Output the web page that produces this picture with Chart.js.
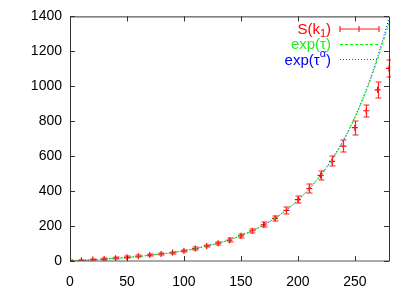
<!DOCTYPE html>
<html>
<head>
<meta charset="utf-8">
<script src="https://cdn.jsdelivr.net/npm/chart.js@4/dist/chart.umd.min.js"></script>
<style>
  html, body { margin: 0; padding: 0; background: #fff; }
</style>
</head>
<body>
<canvas id="chart" width="415" height="291"></canvas>
<script>
// x positions (tau)
const xs = [0, 10, 20, 30, 40, 50, 60, 70, 80, 90, 100, 110, 120, 130, 140,
            150, 160, 170, 180, 190, 200, 210, 220, 230, 240, 250, 260, 270, 280];

// S(k1) measured values and their errors
const sVals = [2, 4, 8, 11, 16, 21, 27, 34, 40, 48, 58, 71, 86, 102, 119,
               144, 173, 207, 244, 290, 351, 415, 490, 570, 658, 763, 860, 980, 1102];
const sErr = [3, 3, 4, 4, 5, 5, 5, 6, 6, 6, 7, 7, 8, 8, 10,
              10, 10, 14, 16, 19, 21, 24, 26, 29, 34, 39, 34, 45, 48];

// exp(tau) curve
const expVals = [2, 4, 7, 11, 15, 20, 26, 33, 40, 48, 58, 71, 86, 102, 121,
                 145, 173, 206, 245, 292, 348, 413, 490, 580, 688, 818, 972, 1155, 1362];

// exp(tau^alpha) curve
const expAlphaVals = [2, 4, 7, 11, 15, 20, 26, 33, 40, 48, 58, 71, 86, 102, 121,
                      145, 173, 206, 245, 292, 348, 413, 491, 583, 692, 824, 982, 1170, 1388];

const xTicks = [0, 50, 100, 150, 200, 250];
const yTicks = [0, 200, 400, 600, 800, 1000, 1200, 1400];

const RED = '#ff0000', GREEN = '#00ff00', BLUE = '#0000ff';
const ERR = '#ff2020';
const FONT = '"Liberation Sans", Arial, Helvetica, sans-serif';

function pts(vals) {
    return xs.map((x, i) => ({ x: x, y: vals[i] }));
}

// frame with inward ticks, like gnuplot
const framePlugin = {
    id: 'frame',
    afterDraw(chart) {
        const c = chart.ctx, a = chart.chartArea;
        const sx = chart.scales.x, sy = chart.scales.y;
        c.save();
        c.lineWidth = 1;
        c.strokeStyle = '#333';
        c.beginPath();
        c.moveTo(a.left + 0.5, a.bottom); c.lineTo(a.left + 0.5, a.top + 0.5);
        c.lineTo(a.right + 0.5, a.top + 0.5); c.lineTo(a.right + 0.5, a.bottom);
        c.stroke();
        // bottom border comes out soft and grey in the reference
        c.strokeStyle = '#555';
        c.beginPath();
        c.moveTo(a.left, a.bottom); c.lineTo(a.right + 1, a.bottom);
        c.stroke();
        c.strokeStyle = '#333';
        c.beginPath();
        xTicks.forEach(v => {
            const px = Math.round(sx.getPixelForValue(v)) + 0.5;
            c.moveTo(px, a.bottom); c.lineTo(px, a.bottom - 5);
            c.moveTo(px, a.top); c.lineTo(px, a.top + 5);
        });
        yTicks.forEach(v => {
            const py = Math.round(sy.getPixelForValue(v)) + 0.5;
            c.moveTo(a.left, py); c.lineTo(a.left + 5, py);
            c.moveTo(a.right, py); c.lineTo(a.right - 5, py);
        });
        c.stroke();
        c.restore();
    }
};

// vertical error bars for S(k1), soft like the antialiased original
const errorPlugin = {
    id: 'errbars',
    afterDatasetsDraw(chart) {
        const c = chart.ctx, a = chart.chartArea;
        const sx = chart.scales.x, sy = chart.scales.y;
        c.save();
        c.beginPath();
        c.rect(a.left, a.top, a.right - a.left + 2, a.bottom - a.top);
        c.clip();
        c.strokeStyle = ERR;
        c.lineWidth = 1.2;
        c.beginPath();
        xs.forEach((x, i) => {
            const px = Math.round(sx.getPixelForValue(x)) + 0.5;
            const y1 = Math.round(sy.getPixelForValue(sVals[i] - sErr[i]));
            const y2 = Math.round(sy.getPixelForValue(sVals[i] + sErr[i]));
            c.moveTo(px, y1); c.lineTo(px, y2);
            c.moveTo(px - 3, y1); c.lineTo(px + 3, y1);
            c.moveTo(px - 3, y2); c.lineTo(px + 3, y2);
        });
        c.stroke();
        c.restore();
    }
};

// gnuplot-style key: text right aligned, sample on the right
function drawPieces(c, pieces, right, base) {
    let w = 0;
    pieces.forEach(p => { c.font = p.size + 'px ' + FONT; w += c.measureText(p.t).width; });
    let x = right - w;
    pieces.forEach(p => {
        c.font = p.size + 'px ' + FONT;
        c.fillText(p.t, x, base + (p.dy || 0));
        x += c.measureText(p.t).width;
    });
}

const keyPlugin = {
    id: 'key',
    afterDraw(chart) {
        const c = chart.ctx;
        const textRight = 331, s0 = 340, s1 = 379;
        c.save();
        c.textBaseline = 'alphabetic';
        c.textAlign = 'left';

        // row 1: S(k1)
        let y = 29;
        c.fillStyle = RED;
        drawPieces(c, [{ t: 'S(k', size: 15 }, { t: '1', size: 11, dy: 3 }, { t: ')', size: 15 }], textRight, y + 5);
        c.strokeStyle = ERR;
        c.lineWidth = 1.2;
        c.beginPath();
        c.moveTo(s0, y); c.lineTo(s1, y);
        c.moveTo(s0, y - 3); c.lineTo(s0, y + 3);
        c.moveTo(s1, y - 3); c.lineTo(s1, y + 3);
        c.moveTo(359, y - 3); c.lineTo(359, y + 3);
        c.stroke();

        // row 2: exp(tau)
        y = 44;
        c.fillStyle = '#22ee22';
        drawPieces(c, [{ t: 'exp(\u03c4)', size: 15 }], textRight, y + 5);
        c.strokeStyle = GREEN;
        c.lineWidth = 1;
        c.setLineDash([3, 2]);
        c.beginPath();
        c.moveTo(s0, y + 0.5); c.lineTo(s1, y + 0.5);
        c.stroke();

        // row 3: exp(tau^alpha)
        y = 60;
        c.fillStyle = BLUE;
        drawPieces(c, [{ t: 'exp(\u03c4', size: 15 }, { t: '\u03b1', size: 11, dy: -8 }, { t: ')', size: 15 }], textRight, y + 5);
        c.strokeStyle = '#3333ff';
        c.setLineDash([1, 2]);
        c.beginPath();
        c.moveTo(s0, y - 0.5); c.lineTo(s1, y - 0.5);
        c.stroke();
        c.restore();
    }
};

const ctx = document.getElementById('chart').getContext('2d');

const chart = new Chart(ctx, {
    type: 'scatter',
    data: {
        datasets: [
            {
                label: 'exp(\u03c4)',
                data: pts(expVals),
                showLine: true,
                borderColor: GREEN,
                borderWidth: 1,
                borderDash: [3, 2],
                pointRadius: 0,
                cubicInterpolationMode: 'monotone'
            },
            {
                label: 'exp(\u03c4^\u03b1)',
                data: pts(expAlphaVals),
                showLine: true,
                borderColor: BLUE,
                borderWidth: 1,
                borderDash: [1, 2],
                pointRadius: 0,
                cubicInterpolationMode: 'monotone'
            },
            {
                label: 'S(k1)',
                data: pts(sVals),
                showLine: false,
                pointStyle: 'cross',
                pointRadius: 3,
                borderColor: RED,
                backgroundColor: RED,
                borderWidth: 1.2
            }
        ]
    },
    options: {
        responsive: false,
        animation: false,
        devicePixelRatio: 1,
        layout: { padding: { left: 0, right: 26, top: 16, bottom: 0 } },
        plugins: { legend: { display: false }, tooltip: { enabled: false } },
        scales: {
            x: {
                type: 'linear',
                min: 0, max: 280,
                afterBuildTicks: s => { s.ticks = xTicks.map(v => ({ value: v })); },
                afterFit: s => { s.height = 30; },
                grid: { display: false, drawTicks: false },
                border: { display: false },
                ticks: { color: '#000', padding: 13, maxRotation: 0, callback: v => String(v),
                         font: { family: FONT, size: 14 } }
            },
            y: {
                type: 'linear',
                min: 0, max: 1400,
                afterBuildTicks: s => { s.ticks = yTicks.map(v => ({ value: v })); },
                afterFit: s => { s.width = 70; },
                grid: { display: false, drawTicks: false },
                border: { display: false },
                ticks: { color: '#000', padding: 8, callback: v => String(v),
                         font: { family: FONT, size: 14 } }
            }
        }
    },
    plugins: [errorPlugin, framePlugin, keyPlugin]
});
</script>
</body>
</html>
